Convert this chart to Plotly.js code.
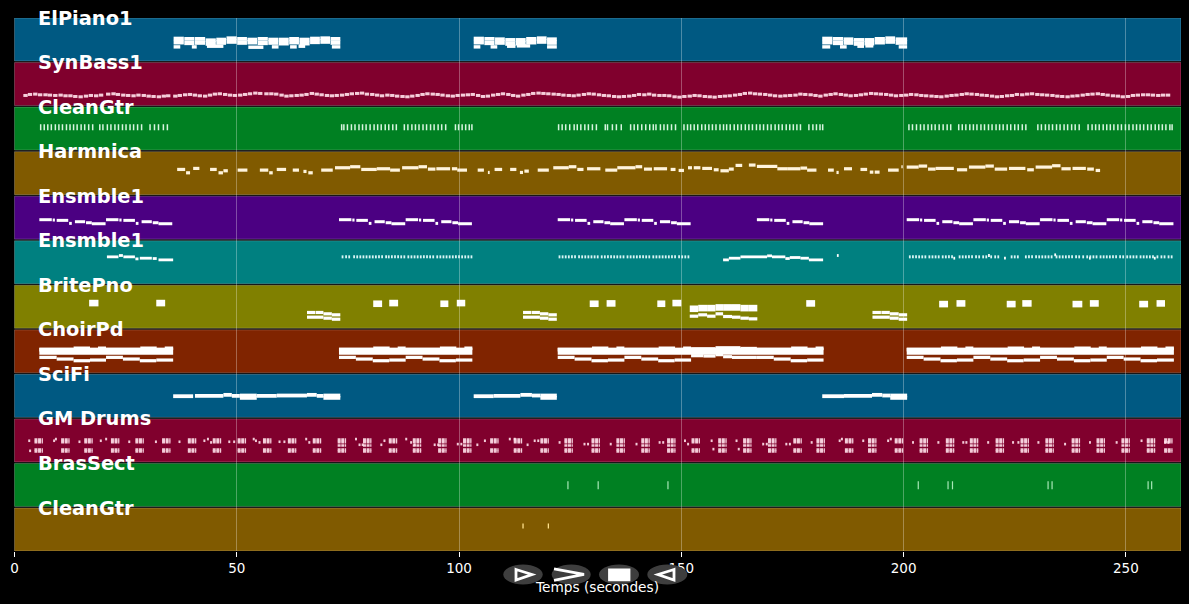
<!DOCTYPE html>
<html>
<head>
<meta charset="utf-8">
<script src="https://cdn.plot.ly/plotly-3.0.1.min.js"></script>
<style>html,body{margin:0;padding:0;background:#000;overflow:hidden}#chart{width:1189px;height:604px}</style>
</head>
<body>
<div id="chart"></div>
<script>
const trackNames = ['ElPiano1', 'SynBass1', 'CleanGtr', 'Harmnica', 'Ensmble1', 'Ensmble1', 'BritePno', 'ChoirPd', 'SciFi', 'GM Drums', 'BrasSect', 'CleanGtr'];
const trackColors = ['#005982', '#80002d', '#008022', '#805a00', '#4b0082', '#008080', '#808000', '#802400', '#005982', '#80002d', '#008022', '#805a00'];
const timeTicks = [0, 50, 100, 150, 200, 250];

// notes are [start, end, pitch]
const elPianoTop = [
  [35.8,38.1,67],[38.2,40.5,66],[40.6,42.9,66],[43,45.3,62],[45.4,47.6,64],[47.7,50,68],[50.1,52.3,66],[52.4,54.6,64],
  [54.7,57,66],[57.1,59.3,64],[59.4,61.7,64],[61.8,64,66],[64.1,66.4,64],[66.5,68.7,67],[68.8,71,68],[71.1,73.3,66],
  [103.3,105.6,67],[105.7,108,66],[108.1,110.3,65],[110.4,112.7,63],[112.8,115,63],[115.1,117.4,66],[117.5,119.7,68],[119.8,122,65],
  [181.7,184,67],[184.1,186.4,66],[186.5,188.7,65],[188.8,191.1,63],[191.2,193.4,63],[193.5,195.8,66],[195.9,198.1,68],[198.2,200.8,65]
];
const elPianoMid = [
  [35.8,38.1,56],[38.2,40.5,54],[40.6,42.9,55],[43,45.3,52],[45.4,47.6,55],[47.7,50,58],[50.1,52.3,55],[52.4,54.6,56],
  [54.7,57,54],[57.1,59.3,55],[59.4,61.7,53],[61.8,64,56],[64.1,66.4,53],[66.5,68.7,57],[68.8,71,58],[71.1,73.3,55],
  [103.3,105.6,56],[105.7,108,54],[108.1,110.3,55],[110.4,112.7,52],[112.8,115,53],[115.1,117.4,56],[117.5,119.7,58],[119.8,122,55],
  [181.7,184,56],[184.1,186.4,54],[186.5,188.7,55],[188.8,191.1,52],[191.2,193.4,53],[193.5,195.8,56],[195.9,198.1,58],[198.2,200.8,55]
];
const elPianoLow = [
  [35.8,37.3,42],[39.9,41,42],[43.3,47,44],[52.6,56,41],[57.9,59.4,42],[62,63.5,42],[63.9,65.4,44],[71.4,73.3,42],
  [103.3,104.8,42],[107.1,108.6,42],[110.8,112.7,44],[113,116,45],[119.8,122,42],
  [181.7,183.5,42],[185.7,187.2,42],[189.6,191.1,44],[191.4,193.2,45],[198.9,200.8,42]
];

const synBassStart = [
  2.0,3.0,4.2,5.3,6.5,7.5,8.7,9.9,11.0,12.1,
  13.2,14.4,15.6,16.7,17.9,19.0,20.6,21.8,22.8,24.0,
  25.1,26.3,27.4,28.6,29.7,30.8,32.0,33.1,34.1,35.7,
  36.7,37.9,39.0,40.1,41.2,42.4,43.5,44.6,45.7,46.9,
  48.0,49.1,50.3,51.4,52.5,53.7,54.8,56.2,57.3,58.4,
  59.6,60.7,61.8,63.0,64.1,65.2,66.4,67.5,68.6,69.8,
  70.9,72.0,73.2,74.3,75.4,76.6,77.7,78.8,80.0,81.1,
  82.2,83.4,84.5,85.6,86.8,87.9,89.0,90.2,91.3,92.4,
  93.6,94.7,95.8,97.0,98.1,99.2,100.4,101.5,102.6,103.8,
  104.9,106.0,107.2,108.3,109.4,110.6,111.7,112.8,114.0,115.1,
  116.2,117.4,118.5,119.6,120.8,121.9,123.0,124.2,125.3,126.4,
  127.6,128.7,129.8,131.0,132.1,133.2,134.4,135.5,136.6,137.8,
  138.9,140.0,141.2,142.3,143.4,144.6,145.7,146.8,148.0,149.1,
  150.2,151.4,152.5,153.6,154.8,155.9,157.0,158.2,159.3,160.4,
  161.6,162.7,163.8,165.0,166.1,167.2,168.4,169.5,170.6,171.8,
  172.9,174.0,175.2,176.3,177.4,178.6,179.7,180.8,182.0,183.1,
  184.2,185.4,186.5,187.6,188.8,189.9,191.0,192.2,193.3,194.4,
  195.6,196.7,197.8,199.0,200.1,201.2,202.4,203.5,204.6,205.8,
  206.9,208.0,209.2,210.3,211.4,212.6,213.7,214.8,216.0,217.1,
  218.2,219.4,220.5,221.6,222.8,223.9,225.0,226.2,227.3,228.4,
  229.6,230.7,231.8,233.0,234.1,235.2,236.4,237.5,238.6,239.8,
  240.9,242.0,243.2,244.3,245.4,246.6,247.7,248.8,250.0,251.1,
  252.2,253.4,254.5,255.6,256.8,257.9,259.0
];
const synBassPitch = [
  30,33,34,32,32,31,30,31,29,29,
  27,26,28,30,29,31,34,35,33,31,
  30,29,31,30,28,27,26,28,29,28,
  30,32,33,31,29,28,31,34,35,33,
  31,30,31,33,35,37,36,35,35,34,
  31,28,29,30,31,33,36,34,32,30,
  29,30,31,33,35,36,37,34,33,31,
  29,31,30,28,27,26,28,30,33,35,
  34,33,31,29,28,30,31,32,33,30,
  27,28,31,33,35,33,30,28,31,33,
  36,37,36,35,34,33,31,30,29,31,
  33,35,34,32,30,29,27,26,27,28,
  30,33,32,34,31,30,30,29,26,25,
  27,28,30,29,27,26,25,27,28,29,
  31,33,36,37,35,34,33,31,29,28,
  29,30,31,34,33,32,30,28,31,33,
  35,33,31,29,30,32,34,36,35,34,
  33,31,29,30,31,33,32,30,29,28,
  27,26,28,30,31,33,35,34,33,31,
  30,28,26,27,29,30,33,32,34,35,
  33,32,31,30,28,27,26,28,29,31,
  33,34,35,33,31,29,28,26,27,30,
  31,32,32,31,30,31,31
];

const cleanGtrOnsets = [
  5.9,6.7,7.5,8.3,9.2,10,10.8,11.7,12.5,13.3,14.1,15,15.8,16.7,17.6,
  19.2,19.9,20.9,21.7,22.6,23.4,24.3,25.1,26,26.8,27.7,28.6,
  30.5,31.5,32.4,33.5,34.4,
  73.6,74.1,74.9,75.8,76.6,77.5,78.3,79.1,80,80.9,81.7,82.5,83.4,84.2,85.1,85.9,
  87.7,88.5,89.4,90.2,91,91.9,92.7,93.6,94.4,95.3,96.1,97,
  99.2,99.9,100.7,101.5,102.3,102.9,
  122.4,123.2,124,124.9,125.9,126.6,127.4,128.3,129.1,130,130.9,
  132.9,133.4,134.5,135.4,136.5,
  138.6,139.4,140.2,141.1,142,142.9,143.7,144.3,145.3,146.1,146.9,147.8,148.7,
  150.6,151.4,152.1,152.9,153.7,154.6,155.4,156.2,157,157.8,158.7,159.5,160.2,161,161.9,162.7,163.5,164.4,165.2,
  166,166.9,167.7,168.5,169.4,170.2,171.1,171.9,172.7,173.6,174.4,175.2,176,176.8,
  178.7,179.6,180.4,181.2,181.8,
  201.2,202,202.9,203.8,204.6,205.5,206.3,207.1,208,208.9,209.8,210.6,
  212.4,213.2,214,214.9,215.7,216.5,217.4,218.2,219.1,219.9,220.8,221.6,222.4,223.3,224.1,225,225.8,226.7,227.5,
  230.2,231,231.9,232.7,233.5,234.4,235.2,236.1,236.9,237.8,238.6,239.5,
  241.5,242.4,243.2,244,244.9,245.7,246.5,247.3,248.2,249,249.9,250.7,251.6,252.4,253.2,254,254.9,255.7,256.6,257.4,258.2,259,259.9,260.4
];

const harmonicaNotes = [
  [36.6,38.4,75],[38.6,39.5,65],[40.2,41.6,78],[44,45.5,75],[45.9,46.9,65],[47,48,71],[50.2,52.4,73],[55.2,57.1,73],[57.3,58.1,65],[59,61.1,75],[62.6,64,73],[65,65.7,69],[66.1,67.1,65],[69,71.6,73],
  [72.1,75.5,80],[75.5,77.8,83],[78,81.5,75],[81.5,84.5,77],[84.5,86.7,73],[87.2,90.9,80],[90.9,92.8,83],[93,94.7,76],[94.9,98,77],[98.4,99.6,77],[99.6,101.8,73],
  [104.2,105.6,73],[106.5,106.9,66],[108,109.7,75],[111.5,112.9,75],[113.7,114.4,66],[114.7,115.7,70],[117.7,120.2,73],
  [121.2,124.7,80],[124.7,126.4,83],[126.6,128,75],[128.8,131.8,77],[132.9,135.6,73],[135.6,139.7,80],[139.7,141.2,83],[141.6,143.4,76],[143.8,146.8,77],[147.6,148.7,75],[149.4,150.6,72],
  [151.5,152.4,80],[152.8,154.3,80],[154.7,156.9,78],[157.3,158.4,74],[158.8,160.7,71],[160.7,161.8,76],[162.2,163.7,87],[165.2,166.7,88],[167,171.6,84],[171.6,173.8,77],[173.8,176.8,77],[176.8,178.3,79],[178.3,180.4,73],
  [183,184.3,73],[184.9,185.4,66],[186.6,188.4,77],[190.3,191.8,75],[192.4,193.2,67],[193.5,194.6,67],[196.5,198.9,73],[199.5,199.8,83],
  [200.7,203.4,82],[203.4,205.3,85],[205.5,207.2,76],[207.2,211.3,78],[212,214.3,74],[214.7,218.4,82],[218.4,220.3,85],[220.5,223.3,76],[223.7,227.4,78],[227.8,229.3,74],[229.7,233.4,82],[233.4,235.3,86],[235.5,237.6,77],[238,241,78],[241.3,242.8,76],[243.2,244.2,72]
];

const ensemble1Notes = [
  [5.6,8.4,58],[8.6,9.1,57],[9.5,12.1,56],[12.3,12.9,47],[13.6,15.9,52],[16.1,17.4,49],[17.4,20.5,46],
  [20.6,23.4,58],[23.6,24.1,57],[24.5,27.1,56],[27.3,27.9,47],[28.6,30.9,52],[31.1,32.4,49],[32.4,35.5,46],
  [73,75.8,58],[76,76.5,57],[76.9,79.5,56],[79.7,80.3,47],[81,83.3,52],[83.5,84.8,49],[84.8,87.9,46],
  [88,90.8,58],[91,91.5,57],[91.9,94.5,56],[94.7,95.3,47],[96,98.3,52],[98.5,99.8,49],[99.8,102.9,46],
  [122.2,125,58],[125.2,125.7,57],[126.1,128.7,56],[128.9,129.5,47],[130.2,132.5,52],[132.7,134,49],[134,137.1,46],
  [137.2,140,58],[140.2,140.7,57],[141.1,143.7,56],[143.9,144.5,47],[145.2,147.5,52],[147.7,149,49],[149,152.1,46],
  [167,169.8,58],[170,170.5,57],[170.9,173.5,56],[173.7,174.3,47],[175,177.3,52],[177.5,178.8,49],[178.8,181.9,46],
  [200.7,203.5,58],[203.7,204.2,57],[204.6,207.2,56],[207.4,208,47],[208.7,211,52],[211.2,212.5,49],[212.5,215.6,46],
  [215.7,218.5,58],[218.7,219.2,57],[219.6,222.2,56],[222.4,223,47],[223.7,226,52],[226.2,227.5,49],[227.5,230.6,46],
  [230.7,233.5,58],[233.7,234.2,57],[234.6,237.2,56],[237.4,238,47],[238.7,241,52],[241.2,242.5,49],[242.5,245.6,46],
  [245.7,248.5,58],[248.7,249.2,57],[249.6,252.2,56],[252.4,253,47],[253.7,256,52],[256.2,257.5,49],[257.5,260.7,46]
];

const ensemble2Notes = [
  [20.8,23.4,80],[23.5,24.4,84],[24.5,27.1,80],[27.2,27.9,74],[28.2,30.9,76],[31.1,32,75],[32.4,35.7,71],
  [159.4,160.7,71],[160.7,163.3,76],[163.3,169.3,80],[169.3,170.4,83],[170.4,173.4,80],[173.4,174.4,75],[174.4,176.8,78],[176.8,178.7,76],[178.7,181.9,71],
  [185,185.4,84],[211.2,211.6,76],[219,219.4,84],[222.6,223,76],[233.9,234.3,86],[241.7,242.1,76],[256.3,256.7,76]
];
const ensemble2Dots = [
  73.6,74.4,75.1,76.2,76.9,77.6,78.3,79,79.7,80.4,81.1,81.8,82.5,83.4,84,84.7,85.4,86.1,86.8,87.5,
  88.4,89.1,89.8,90.5,91.2,91.9,92.6,93.3,94,94.9,95.6,96.3,97,97.7,98.4,99.1,99.8,100.5,101.2,101.9,102.6,
  122.4,123.1,123.8,124.5,125.2,125.9,126.8,127.5,128.2,128.9,129.6,130.3,131,131.9,132.6,133.3,134,134.7,135.4,136.1,136.8,
  137.7,138.4,139.1,139.8,140.5,141.2,141.9,142.6,143.5,144.2,144.9,145.6,146.3,147,147.7,148.4,149.3,150,150.7,151.4,
  201.2,201.9,202.6,203.3,204,204.7,205.6,206.3,207,207.7,208.6,209.3,210,210.7,212.4,213.1,213.8,214.5,215.2,216.1,216.8,217.7,218.4,219.5,220.4,221.1,
  224.1,224.8,225.5,227.3,228,228.7,229.6,230.3,231,231.7,232.4,233.1,234.2,234.9,235.6,236.3,237,237.7,238.6,239.3,240.2,
  241.1,241.8,242.5,243.2,244.1,244.8,245.5,246.2,246.9,247.6,248.5,249.2,250.1,250.8,251.5,252.2,253.1,253.8,254.5,255.2,255.9,256.9,257.8,258.5,259.4,260.1
];

const britePnoBlocks = [
  [16.8,18.9,75],[31.9,33.9,75],[80.7,82.7,73],[84.3,86.3,75],[95.8,97.6,73],[99.5,101.4,75],
  [129.4,131.4,73],[133.2,135.2,74],[144.6,146.4,73],[148,150,75],[178.1,180.1,74],
  [208,210,72],[211.9,213.9,74],[223.2,225.2,72],[226.7,228.8,74],[238,240.2,72],[241.9,243.9,74],[253,255,72],[256.9,258.8,74],
  [151.9,153.8,58],[153.8,155.8,60],[155.8,157.7,60],[157.7,159.4,62],[159.4,161.4,62],[161.4,163.3,62],[163.3,165.2,60],[165.2,167.1,60]
];
const britePnoLow = [
  [65.8,67.7,47],[67.8,69.5,47],[69.5,71.4,43],[71.4,73.3,40],[65.8,69.5,33],[69.5,71.4,30],[71.4,73.3,27],
  [114.4,116.3,47],[116.4,118.2,47],[118.2,120.1,43],[120.1,122,40],[114.4,118.2,33],[118.2,120.1,30],[120.1,122,27],
  [193,194.9,47],[195,196.9,47],[196.9,198.9,43],[198.9,200.8,40],[193,196.9,33],[196.9,198.9,30],[198.9,200.8,27],
  [151.9,153.8,36],[153.8,155.8,40],[155.8,157.7,36],[157.7,159.4,43],[159.4,161.4,35],[161.4,163.3,33],[163.3,165.2,30],[165.2,167.1,28]
];

const choirMid = [[5.6,35.7,64],[73,103,64],[122.2,182,64],[200.7,260.8,64]];
const choirTop = [
  [5.6,13.3,69],[13.3,17,73],[17,18.8,69],[18.8,20.6,73],[20.6,28.3,69],[28.3,32,73],[32,33.8,69],[33.8,35.7,73],
  [73,80.7,69],[80.7,84.4,73],[84.4,86.2,69],[86.2,88,73],[88,95.7,69],[95.7,99.4,73],[99.4,101.2,69],[101.2,103,73],
  [122.2,129.9,69],[129.9,133.6,73],[133.6,135.4,69],[135.4,137.2,73],[137.2,144.9,69],[144.9,148.6,73],[148.6,150.4,69],[150.4,152.2,73],
  [152.2,157.7,71],[157.7,163.3,74],[163.3,167,72],
  [167,174.7,69],[174.7,178.4,73],[178.4,180.2,69],[180.2,182,73],
  [200.7,208.4,69],[208.4,212.1,73],[212.1,213.9,69],[213.9,215.7,73],[215.7,223.4,69],[223.4,227.1,73],[227.1,228.9,69],[228.9,230.7,73],
  [230.7,238.4,69],[238.4,242.1,73],[242.1,243.9,69],[243.9,245.7,73],[245.7,253.4,69],[253.4,257.1,73],[257.1,258.9,69],[258.9,260.8,73]
];
const choirLow = [
  [5.6,9.5,46],[9.5,13.3,41],[13.3,17,36],[17,20.6,38],[20.6,24.4,46],[24.4,28.2,41],[28.2,31.9,36],[31.9,35.7,38],
  [73,76.8,46],[76.8,80.6,41],[80.6,84.3,36],[84.3,88,38],[88,91.8,46],[91.8,95.6,41],[95.6,99.3,36],[99.3,103,38],
  [122.2,126,46],[126,129.8,41],[129.8,133.5,36],[133.5,137.2,38],[137.2,141,46],[141,144.8,41],[144.8,148.5,36],[148.5,152.2,38],
  [152.2,155,51],[155,157.7,50],[157.7,159.4,54],[159.4,161.4,48],[161.4,167,46],
  [167,170.8,46],[170.8,174.6,41],[174.6,178.3,36],[178.3,182,38],
  [200.7,204.5,46],[204.5,208.3,41],[208.3,212,36],[212,215.7,38],[215.7,219.5,46],[219.5,223.3,41],[223.3,227,36],[227,230.7,38],
  [230.7,234.5,46],[234.5,238.3,41],[238.3,242,36],[242,245.7,38],[245.7,249.5,46],[249.5,253.3,41],[253.3,257,36],[257,260.8,38]
];

const sciFiNotes = [
  [35.7,40.2,63],[40.6,47,64],[47,48.9,67],[48.9,50.7,64],[50.7,54.5,65],[50.7,54.5,58],[54.5,59,64],[59,65.8,65],[65.8,68,67],[68,69.5,64],[69.5,73.3,65],[69.5,73.3,58],
  [103.3,107.8,63],[107.8,113.8,64],[113.8,116.4,67],[116.4,118.3,65],[118.3,122,65],[118.3,122,58],
  [181.7,186.6,63],[186.6,192.9,64],[192.9,195.2,67],[195.2,197,65],[197,200.8,65],[197,200.8,58]
];

const drumBlockStart = [
  4.5,10.5,15.7,21.7,27.2,33.2,39,44.6,50.2,55.9,61.5,67.1,72.7,78.4,84.2,89.6,95.3,100.9,107,112.3,118.3,
  123.7,129.8,135.4,141,146.8,152.3,158.3,163.9,169.5,175.2,180.4,186.8,192,198,203.6,209.5,214.9,220.7,226.3,231.9,237.8,243.4,249,254.7,258.6
];
const drumMidBlockStart = [
  72.7,78.4,89.6,95.3,100.9,123.7,129.8,135.4,141,146.8,158.3,163.9,169.5,180.4,192,203.6,209.5,214.9,220.7,226.3,231.9,237.8,243.4,249,254.7
];
const drumFillTimes = [
  3.1,3.3,8.7,9.1,14.4,19.2,20.4,25.6,31.6,36.9,42.5,43.3,44,48.1,49.2,53.6,54.1,54.9,59.4,60.5,65.4,66.1,76.6,77.4,78.1,82.3,83,
  87.9,89,89.8,94.3,95.1,99.5,100.3,103.9,105.6,111.2,112.3,115.2,116.8,117.6,122.4,128,128.8,133.9,139.7,144.9,145.7,150.6,151.3,156.6,157,162.2,162.7,168.2,169,173.4,174.2,
  179.1,185.4,185.9,190.7,196.3,196.9,201.9,207.6,213.2,213.9,218.8,224.4,225.6,230.1,236.1,241.7,247.7,253.3,258.6,259.3
];
const drumFillPitches = [
  63,33,63,68,60,63,68,60,60,60,63,68,58,60,60,68,63,58,60,60,68,58,68,51,51,51,63,
  68,58,51,51,51,53,53,51,63,68,68,51,63,63,58,53,53,53,53,58,58,63,53,63,38,63,38,53,53,53,53,
  58,63,68,63,63,68,58,58,58,58,58,58,58,58,53,58,58,63,58,58
];

const brassOnsets = [124.5, 131.3, 147, 203.3, 210, 211, 232.5, 233.4, 255, 255.8];
const cleanGtr2Onsets = [114.4, 120.1];

const synBassLength = 0.98;
const onsetLength = 0.4;
const drumBlockLength = 1.9;
const drumFillLength = 0.45;

// pitch 0-128 inside a track band, track 0 at the top
function pitchY(track, pitch) {
  return 11 - track + 0.035 + 0.965 * pitch / 128;
}

function noteTrace(track, notes, width, color, dash) {
  const x = [], y = [];
  notes.forEach(n => {
    x.push(n[0], n[1], null);
    y.push(pitchY(track, n[2]), pitchY(track, n[2]), null);
  });
  return {
    x, y, type: 'scatter', mode: 'lines', hoverinfo: 'skip', showlegend: false,
    line: { color: color || '#ffffff', width, dash: dash || 'solid', simplify: false },
  };
}

function tickTrace(track, onsets, low, high, width, color) {
  const x = [], y = [];
  onsets.forEach(t => {
    x.push(t, t, null);
    y.push(pitchY(track, low), pitchY(track, high), null);
  });
  return {
    x, y, type: 'scatter', mode: 'lines', hoverinfo: 'skip', showlegend: false,
    line: { color, width, simplify: false },
  };
}

const drumWhite = 'rgba(255,225,235,0.9)';
const drumDash = '3px,0.6px';
const traces = [
  noteTrace(0, elPianoMid, 4.6),
  noteTrace(0, elPianoTop, 3.6),
  noteTrace(0, elPianoLow, 3.4),
  noteTrace(1, synBassStart.map((t, i) => [t, t + synBassLength, synBassPitch[i]]), 3, 'rgba(255,222,232,0.92)'),
  tickTrace(2, cleanGtrOnsets, 59, 77, 1.5, '#d8f5e0'),
  noteTrace(3, harmonicaNotes, 3.2, '#fff4dc'),
  noteTrace(4, ensemble1Notes, 3),
  noteTrace(5, ensemble2Notes, 2.8),
  noteTrace(5, ensemble2Dots.map(t => [t, t + onsetLength, 80]), 3, '#d8f5f5'),
  noteTrace(6, britePnoBlocks, 6.6),
  noteTrace(6, britePnoLow, 3.2),
  noteTrace(7, choirMid, 7),
  noteTrace(7, choirTop, 3.6),
  noteTrace(7, choirLow, 3.2),
  noteTrace(8, sciFiNotes, 3.8),
  noteTrace(9, drumBlockStart.map(t => [t, t + drumBlockLength, 66]), 2.8, drumWhite, drumDash),
  noteTrace(9, drumBlockStart.map(t => [t, t + drumBlockLength, 59]), 2.8, drumWhite, drumDash),
  noteTrace(9, drumMidBlockStart.map(t => [t, t + drumBlockLength, 49]), 2.4, drumWhite, drumDash),
  noteTrace(9, drumBlockStart.map(t => [t, t + drumBlockLength, 37]), 2.6, drumWhite, drumDash),
  noteTrace(9, drumBlockStart.map(t => [t, t + drumBlockLength, 31]), 2.6, drumWhite, drumDash),
  noteTrace(9, drumFillTimes.map((t, i) => [t, t + drumFillLength, drumFillPitches[i]]), 2.6, drumWhite),
  tickTrace(10, brassOnsets, 51, 75, 1.2, '#a8e8b8'),
  tickTrace(11, cleanGtr2Onsets, 67, 82, 1.3, '#ffe08a'),
];

const W = 1189, H = 604;
const margin = { l: 14, r: 8, t: 18, b: 52.5, pad: 0 };
const px = v => (v - margin.l) / (W - margin.l - margin.r);
const py = v => 1 - (v - margin.t) / (H - margin.t - margin.b);

// track bands sit below the gridlines
const shapes = trackColors.map((color, k) => ({
  type: 'rect', layer: 'below', xref: 'x', yref: 'y',
  x0: 0, x1: 262.4, y0: 11 - k + 0.035, y1: 12 - k,
  fillcolor: color, line: { color: 'rgba(255,255,255,0.28)', width: 0.8 },
}));

// player buttons under the axis
const ellipse = (x0, x1) => ({
  type: 'circle', xref: 'paper', yref: 'paper', layer: 'above',
  x0: px(x0), x1: px(x1), y0: py(585), y1: py(565),
  fillcolor: '#3e3e3e', line: { width: 0 },
});
const glyph = (pts, close, fill) => ({
  type: 'path', xref: 'paper', yref: 'paper', layer: 'above',
  path: 'M' + pts.map(p => px(p[0]) + ',' + py(p[1])).join(' L') + (close ? ' Z' : ''),
  fillcolor: fill || 'rgba(0,0,0,0)', line: { color: '#ffffff', width: 2.8 },
});
shapes.push(
  ellipse(503.3, 542.7), ellipse(551.7, 590.7), ellipse(599, 639), ellipse(647.3, 687.3),
  glyph([[516, 570], [532, 575], [516, 580.5]], true),
  glyph([[554, 569.5], [584, 575], [554, 581]], false),
  glyph([[609.5, 570.5], [629, 570.5], [629, 580.5], [609.5, 580.5]], true, '#ffffff'),
  glyph([[674, 570], [658, 575], [674, 580.5]], true)
);

const annotations = trackNames.map((name, k) => ({
  text: name, xref: 'x', yref: 'y', x: 5, y: 12 - k, xanchor: 'left', yanchor: 'middle',
  showarrow: false, borderpad: 0,
  font: { family: 'DejaVu Sans', size: 19.4, color: '#ffffff', weight: 700 },
}));

Plotly.newPlot('chart', traces, {
  width: W, height: H, margin,
  paper_bgcolor: '#000000', plot_bgcolor: '#000000',
  font: { family: 'DejaVu Sans', color: '#ffffff', size: 13 },
  showlegend: false,
  xaxis: {
    range: [-0.1, 262.4], tickvals: timeTicks, ticks: 'outside', ticklen: 5, tickwidth: 1, tickcolor: '#ffffff',
    showgrid: true, gridcolor: 'rgba(255,255,255,0.3)', gridwidth: 1, zeroline: false, showline: false,
    tickfont: { size: 13.5, color: '#ffffff' },
    title: { text: 'Temps (secondes)', font: { size: 13.7, color: '#ffffff' }, standoff: 7 },
  },
  yaxis: { range: [0.035, 12], visible: false, showgrid: false, zeroline: false },
  shapes, annotations,
}, { displayModeBar: false, responsive: false });
</script>
</body>
</html>
